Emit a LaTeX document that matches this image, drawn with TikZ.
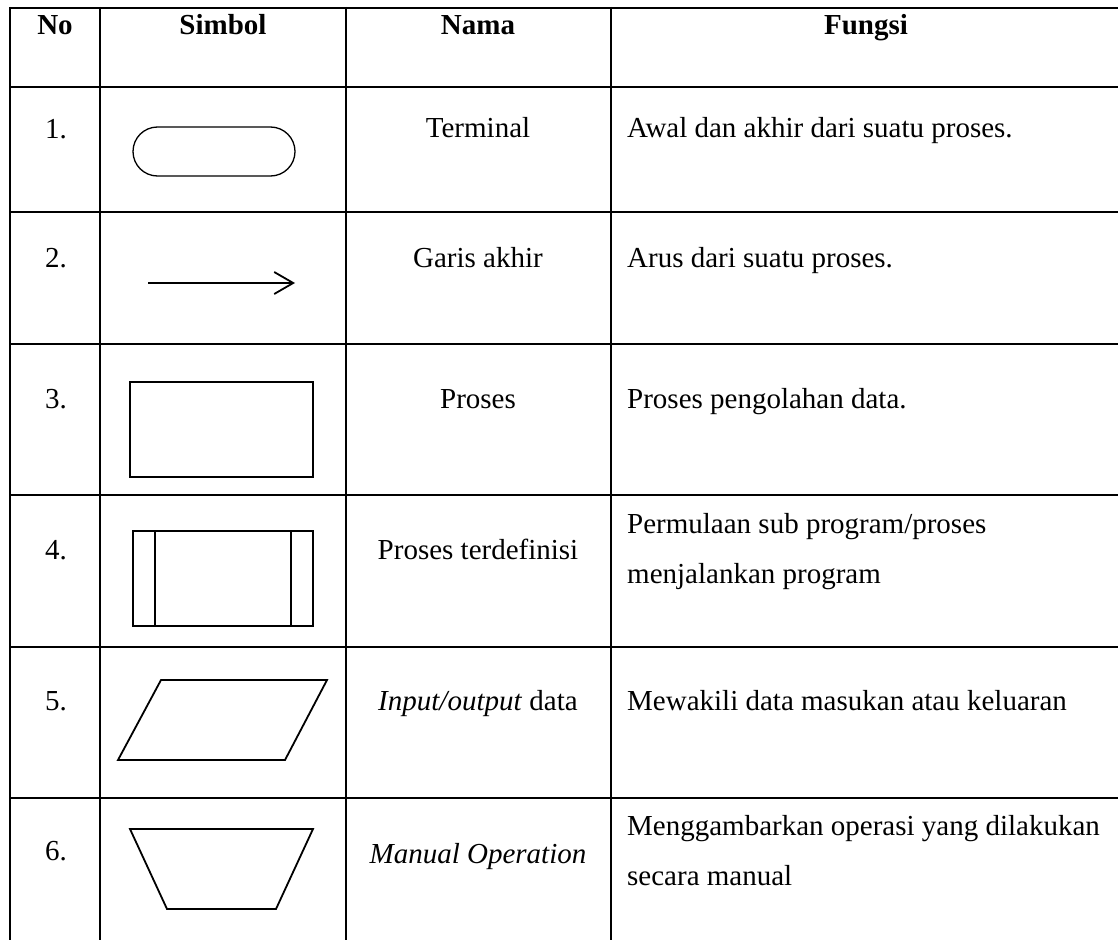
\documentclass[tikz,border=0pt]{standalone}
\usepackage{fontspec}
\setmainfont{Liberation Serif}
\usetikzlibrary{arrows.meta}
\begin{document}
\begin{tikzpicture}[x=1pt,y=-1pt,
  grid/.style={line width=2pt},
  symline/.style={line width=1.3pt},
  thicksym/.style={line width=1.8pt},
  txt/.style={inner sep=0pt,anchor=base,font=\fontsize{29}{34}\selectfont},
  ltxt/.style={txt,anchor=base west},
  hdr/.style={txt,font=\fontsize{29}{34}\selectfont\bfseries}]
\clip (0,0) rectangle (1118,939);
\fill[white] (0,0) rectangle (1118,939);
% table grid
\foreach \y in {8,87,212,344,495,647,798}
  \draw[grid] (9,\y) -- (1125,\y);
\foreach \x in {10,100,346,611}
  \draw[grid] (\x,7) -- (\x,945);
% header
\node[hdr] (hno) at (55,35) {No};
\node[hdr] (hsim) at (223,35) {Simbol};
\node[hdr] (hnama) at (478,35) {Nama};
\node[hdr] (hfun) at (866,35) {Fungsi};
% row 1
\node[txt] (n1) at (56,139) {1.};
\draw[symline,rounded corners=24.5pt] (133,127) rectangle (295,176);
\node[txt] (m1) at (478,138) {Terminal};
\node[ltxt] (f1) at (627,138) {Awal dan akhir dari suatu proses.};
% row 2
\node[txt] (n2) at (56,267) {2.};
\coordinate (a1) at (148,283);
\coordinate (a2) at (295,283);
\draw[thicksym,-{Straight Barb[length=19pt,width=22pt,line width=1.8pt]}] (a1) -- (a2);
\node[txt] (m2) at (478,267) {Garis akhir};
\node[ltxt] (f2) at (627,267) {Arus dari suatu proses.};
% row 3
\node[txt] (n3) at (56,408) {3.};
\draw[symline] (130,382) rectangle (313,477);
\node[txt] (m3) at (478,408) {Proses};
\node[ltxt] (f3) at (627,408) {Proses pengolahan data.};
% row 4
\node[txt] (n4) at (56,559) {4.};
\draw[symline] (133,531) rectangle (313,626);
\draw[symline] (155,531) -- (155,626);
\draw[symline] (291,531) -- (291,626);
\node[txt] (m4) at (478,559) {Proses terdefinisi};
\node[ltxt] (f4a) at (627,533) {Permulaan sub program/proses};
\node[ltxt] (f4b) at (627,583) {menjalankan program};
% row 5
\node[txt] (n5) at (56,710) {5.};
\draw[thicksym] (161,680) -- (327,680) -- (285,760) -- (118,760) -- cycle;
\node[txt] (m5) at (478,710) {\textit{Input/output} data};
\node[ltxt] (f5) at (627,710) {Mewakili data masukan atau keluaran};
% row 6
\node[txt] (n6) at (56,860) {6.};
\draw[thicksym] (130,829) -- (313,829) -- (276,909) -- (167,909) -- cycle;
\node[txt] (m6) at (478,863) {\textit{Manual Operation}};
\node[ltxt] (f6a) at (627,835) {Menggambarkan operasi yang dilakukan};
\node[ltxt] (f6b) at (627,885) {secara manual};
\end{tikzpicture}
\end{document}
